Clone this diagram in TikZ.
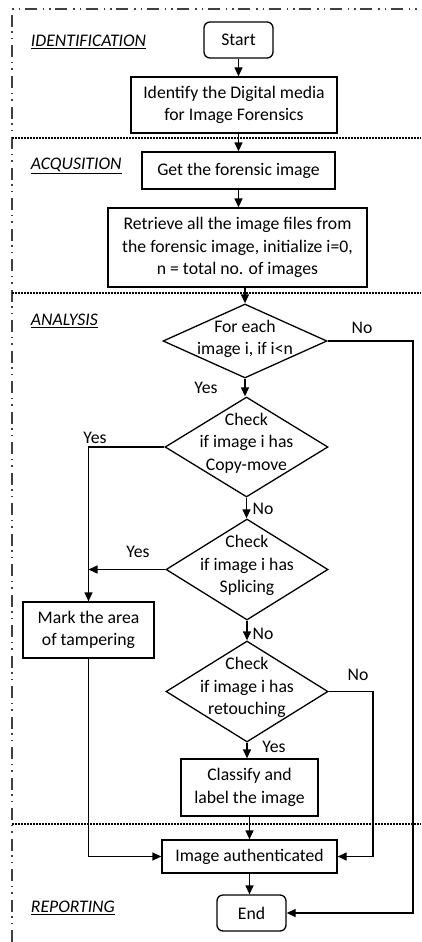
\documentclass[tikz,border=0pt]{standalone}
\usepackage{fontspec}
\setmainfont{Carlito}
\usetikzlibrary{shapes.geometric,arrows.meta,positioning}

\begin{document}
\begin{tikzpicture}[
    x=1pt, y=-1pt,
    font=\fontsize{17.7pt}{22.5pt}\selectfont,
    line width=1.3pt,
    >={Triangle[length=9pt,width=8pt]},
    process/.style={draw, rectangle, align=center, inner sep=2pt},
    terminal/.style={draw, rectangle, rounded corners=6pt, minimum width=69pt, minimum height=36pt},
    decision/.style={draw, diamond, inner sep=0pt},
    phase/.style={anchor=base west, font=\fontsize{17.7pt}{22.5pt}\selectfont\itshape},
    border/.style={black!75, dash pattern=on 12pt off 6pt on 1.5pt off 5pt on 1.5pt off 4.5pt},
    divider/.style={black, line width=1.6pt, dash pattern=on 1.6pt off 1.4pt},
]
    \useasboundingbox (0,0) rectangle (421,942);

    % frame and phase dividers
    \draw[border] (12,942) -- (12,9) -- (421,9);
    \draw[divider] (12,138) -- (421,138);
    \draw[divider] (12,292.7) -- (421,292.7);
    \draw[divider] (12,824) -- (421,824);

    \node[phase] (ph1) at (27,46.5) {\underline{IDENTIFICATION}};
    \node[phase] (ph2) at (27,169.5) {\underline{ACQUSITION}};
    \node[phase] (ph3) at (27,325.5) {\underline{ANALYSIS}};
    \node[phase] (ph4) at (27,912.5) {\underline{REPORTING}};

    % flow
    \node[terminal] (start) at (238.5,40) {Start};
    \node[process, minimum width=206pt, minimum height=56pt] (ident) at (234,105) {Identify the Digital media\\for Image Forensics};
    \node[process, minimum width=193pt, minimum height=37pt] (get) at (238.5,170.5) {Get the forensic image};
    \node[process, minimum width=259pt, minimum height=79pt] (retr) at (237.5,247.5) {Retrieve all the image files from\\the forensic image, initialize i=0,\\n = total no. of images};
    \node[decision, minimum width=164pt, minimum height=74pt,
          label={[align=center, yshift=2pt]center:{For each\\image i, if i<n}}] (eachimg) at (245,341) {};
    \node[decision, minimum width=163pt, minimum height=100pt,
          label={[align=center, yshift=4pt]center:{Check\\if image i has\\Copy-move}}] (copymove) at (246.5,447) {};
    \node[decision, minimum width=162pt, minimum height=101pt,
          label={[align=center, yshift=4pt]center:{Check\\if image i has\\Splicing}}] (splice) at (247,569.5) {};
    \node[decision, minimum width=162pt, minimum height=101pt,
          label={[align=center, yshift=4pt]center:{Check\\if image i has\\retouching}}] (retouch) at (247,691.5) {};
    \node[process, minimum width=131pt, minimum height=56pt] (mark) at (88.5,630) {Mark the area\\of tampering};
    \node[process, minimum width=137pt, minimum height=57pt] (classify) at (249.5,787.5) {Classify and\\label the image};
    \node[process, minimum width=175pt, minimum height=33pt] (auth) at (249.5,856.5) {Image authenticated};
    \node[terminal] (end) at (251.5,913) {End};

    \coordinate (outer) at (413,0);
    \coordinate (inner) at (373,0);

    \draw[->] (start.south) -- (start.south |- ident.north);
    \draw[->] (get.north |- ident.south) -- (get.north);
    \draw[->] (get.south) -- (get.south |- retr.north);
    \draw[->] (eachimg.north |- retr.south) -- (eachimg.north);
    \draw[->] (eachimg.south) -- (eachimg.south |- copymove.north);
    \draw[->] (eachimg.east) -- (eachimg.east -| outer) |- (end.east);
    \draw[->] (copymove.west) -| (mark.north);
    \draw[->] (copymove.south) -- (copymove.south |- splice.north);
    \draw[->] (splice.west) -- (splice.west -| mark.north);
    \draw[->] (splice.south) -- (splice.south |- retouch.north);
    \draw[->] (retouch.south) -- (retouch.south |- classify.north);
    \draw[->] (retouch.east) -- (retouch.east -| inner) |- (auth.east);
    \draw[->] (mark.south) |- (auth.west);
    \draw[->] (classify.south) -- (classify.south |- auth.north);
    \draw[->] (auth.south) -- (auth.south |- end.north);

    % branch labels
    \node (no1) at (362,328) {No};
    \node (yes1) at (206,388) {Yes};
    \node (yes2) at (95,438) {Yes};
    \node (no2) at (263,509) {No};
    \node (yes3) at (138,552) {Yes};
    \node (no3) at (263,634) {No};
    \node (no4) at (358,675) {No};
    \node (yes4) at (274,747) {Yes};
\end{tikzpicture}
\end{document}
